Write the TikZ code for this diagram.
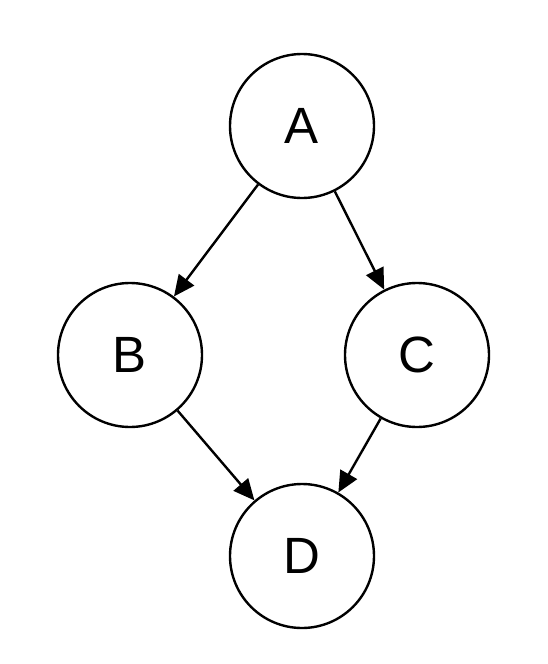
\documentclass[tikz,border=0pt]{standalone}
\usepackage{fontspec}
\setmainfont{Liberation Sans}
\usetikzlibrary{arrows.meta}
\begin{document}
\begin{tikzpicture}[x=1pt,y=-1pt,
  vertex/.style={circle,draw,line width=2.4pt,minimum size=144pt,inner sep=0pt,font=\fontsize{51}{60}\selectfont},
  edge/.style={line width=2.4pt,-{Triangle[length=21pt,width=19pt]}}]
\useasboundingbox (0,0) rectangle (548,664);
\node[vertex] (A) at (302,126) {A};
\node[vertex] (B) at (130,355) {B};
\node[vertex] (C) at (417,355) {C};
\node[vertex] (D) at (302,556) {D};
\draw[edge] (A) -- (B);
\draw[edge] (A) -- (C);
\draw[edge] (B) -- (D);
\draw[edge] (C) -- (D);
\end{tikzpicture}
\end{document}
